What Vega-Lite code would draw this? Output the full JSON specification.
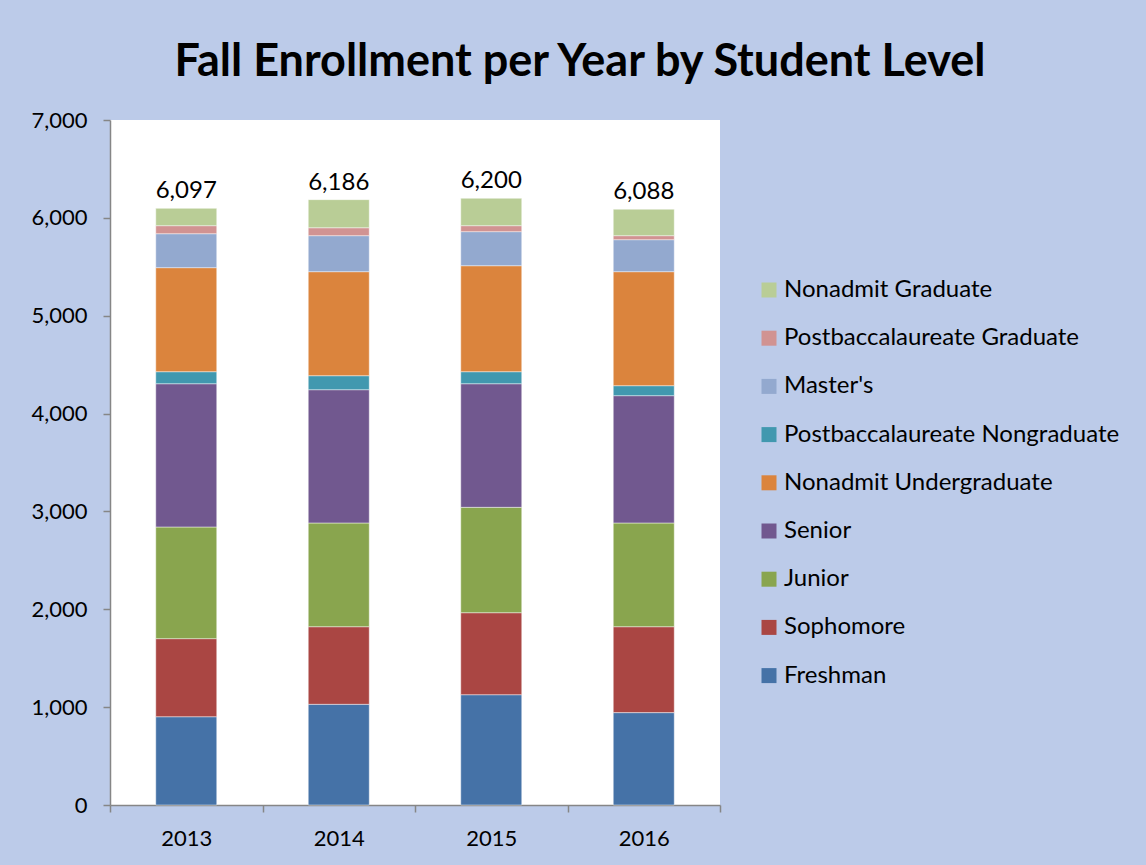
{
  "$schema": "https://vega.github.io/schema/vega-lite/v6.json",
  "autosize": "none",
  "width": 610,
  "height": 685,
  "padding": {"left": 110, "top": 120, "right": 426, "bottom": 60},
  "background": "#bccbe9",
  "title": {
    "text": "Fall Enrollment per Year by Student Level",
    "font": "Lato",
    "fontSize": 45,
    "fontWeight": "bold",
    "color": "#000000",
    "anchor": "middle",
    "dx": 165,
    "offset": 24
  },
  "config": {
    "view": {"fill": "#ffffff", "stroke": null},
    "font": "Lato"
  },
  "data": {
    "values": [
      {"year": "2013", "level": "Freshman", "k": 1, "n": 902},
      {"year": "2013", "level": "Sophomore", "k": 2, "n": 798},
      {"year": "2013", "level": "Junior", "k": 3, "n": 1141},
      {"year": "2013", "level": "Senior", "k": 4, "n": 1464},
      {"year": "2013", "level": "Postbaccalaureate Nongraduate", "k": 5, "n": 123},
      {"year": "2013", "level": "Nonadmit Undergraduate", "k": 6, "n": 1063},
      {"year": "2013", "level": "Master's", "k": 7, "n": 347},
      {"year": "2013", "level": "Postbaccalaureate Graduate", "k": 8, "n": 82},
      {"year": "2013", "level": "Nonadmit Graduate", "k": 9, "n": 177},
      {"year": "2014", "level": "Freshman", "k": 1, "n": 1029},
      {"year": "2014", "level": "Sophomore", "k": 2, "n": 793},
      {"year": "2014", "level": "Junior", "k": 3, "n": 1060},
      {"year": "2014", "level": "Senior", "k": 4, "n": 1362},
      {"year": "2014", "level": "Postbaccalaureate Nongraduate", "k": 5, "n": 143},
      {"year": "2014", "level": "Nonadmit Undergraduate", "k": 6, "n": 1063},
      {"year": "2014", "level": "Master's", "k": 7, "n": 368},
      {"year": "2014", "level": "Postbaccalaureate Graduate", "k": 8, "n": 81},
      {"year": "2014", "level": "Nonadmit Graduate", "k": 9, "n": 287},
      {"year": "2015", "level": "Freshman", "k": 1, "n": 1127},
      {"year": "2015", "level": "Sophomore", "k": 2, "n": 838},
      {"year": "2015", "level": "Junior", "k": 3, "n": 1077},
      {"year": "2015", "level": "Senior", "k": 4, "n": 1263},
      {"year": "2015", "level": "Postbaccalaureate Nongraduate", "k": 5, "n": 123},
      {"year": "2015", "level": "Nonadmit Undergraduate", "k": 6, "n": 1083},
      {"year": "2015", "level": "Master's", "k": 7, "n": 348},
      {"year": "2015", "level": "Postbaccalaureate Graduate", "k": 8, "n": 61},
      {"year": "2015", "level": "Nonadmit Graduate", "k": 9, "n": 280},
      {"year": "2016", "level": "Freshman", "k": 1, "n": 944},
      {"year": "2016", "level": "Sophomore", "k": 2, "n": 878},
      {"year": "2016", "level": "Junior", "k": 3, "n": 1060},
      {"year": "2016", "level": "Senior", "k": 4, "n": 1301},
      {"year": "2016", "level": "Postbaccalaureate Nongraduate", "k": 5, "n": 102},
      {"year": "2016", "level": "Nonadmit Undergraduate", "k": 6, "n": 1165},
      {"year": "2016", "level": "Master's", "k": 7, "n": 327},
      {"year": "2016", "level": "Postbaccalaureate Graduate", "k": 8, "n": 41},
      {"year": "2016", "level": "Nonadmit Graduate", "k": 9, "n": 270}
    ]
  },
  "encoding": {
    "x": {
      "field": "year",
      "type": "nominal",
      "scale": {"paddingInner": 0, "paddingOuter": 0},
      "axis": {
        "title": null,
        "labelAngle": 0,
        "labelFont": "Lato",
        "labelFontSize": 22,
        "labelColor": "#000000",
        "labelPadding": 16,
        "tickBand": "extent",
        "tickSize": 7,
        "tickColor": "#868686",
        "domainColor": "#868686",
        "domainWidth": 1.5,
        "tickWidth": 1.5
      }
    }
  },
  "layer": [
    {
      "mark": {"type": "bar", "width": {"band": 0.4}, "stroke": "#ffffff", "strokeOpacity": 0.45, "strokeWidth": 1},
      "encoding": {
        "y": {
          "field": "n",
          "type": "quantitative",
          "stack": "zero",
          "scale": {"domain": [0, 7000]},
          "axis": {
            "title": null,
            "values": [0, 1000, 2000, 3000, 4000, 5000, 6000, 7000],
            "format": ",d",
            "grid": false,
            "labelFont": "Lato",
            "labelFontSize": 22,
            "labelColor": "#000000",
            "labelPadding": 16,
            "tickSize": 7,
            "tickColor": "#868686",
            "domainColor": "#868686",
            "domainWidth": 1.5,
            "tickWidth": 1.5
          }
        },
        "order": {"field": "k", "type": "quantitative", "sort": "ascending"},
        "color": {
          "field": "level",
          "type": "nominal",
          "scale": {
            "domain": ["Freshman", "Sophomore", "Junior", "Senior", "Postbaccalaureate Nongraduate", "Nonadmit Undergraduate", "Master's", "Postbaccalaureate Graduate", "Nonadmit Graduate"],
            "range": ["#4572a7", "#aa4643", "#89a54e", "#71588f", "#4198af", "#db843d", "#93a9cf", "#d19392", "#b9cd96"]
          },
          "legend": {
            "title": null,
            "orient": "none",
            "legendX": 647,
            "legendY": 158,
            "values": ["Nonadmit Graduate", "Postbaccalaureate Graduate", "Master's", "Postbaccalaureate Nongraduate", "Nonadmit Undergraduate", "Senior", "Junior", "Sophomore", "Freshman"],
            "symbolType": "square",
            "symbolSize": 225,
            "symbolStrokeWidth": 0,
            "labelFont": "Lato",
            "labelFontSize": 24,
            "labelColor": "#000000",
            "labelOffset": 3,
            "rowPadding": 24.2,
            "labelLimit": 400
          }
        }
      }
    },
    {
      "mark": {"type": "text", "baseline": "bottom", "dy": -5, "font": "Lato", "fontSize": 24, "color": "#000000"},
      "encoding": {
        "y": {"aggregate": "sum", "field": "n", "type": "quantitative"},
        "text": {"aggregate": "sum", "field": "n", "type": "quantitative", "format": ","}
      }
    }
  ]
}
